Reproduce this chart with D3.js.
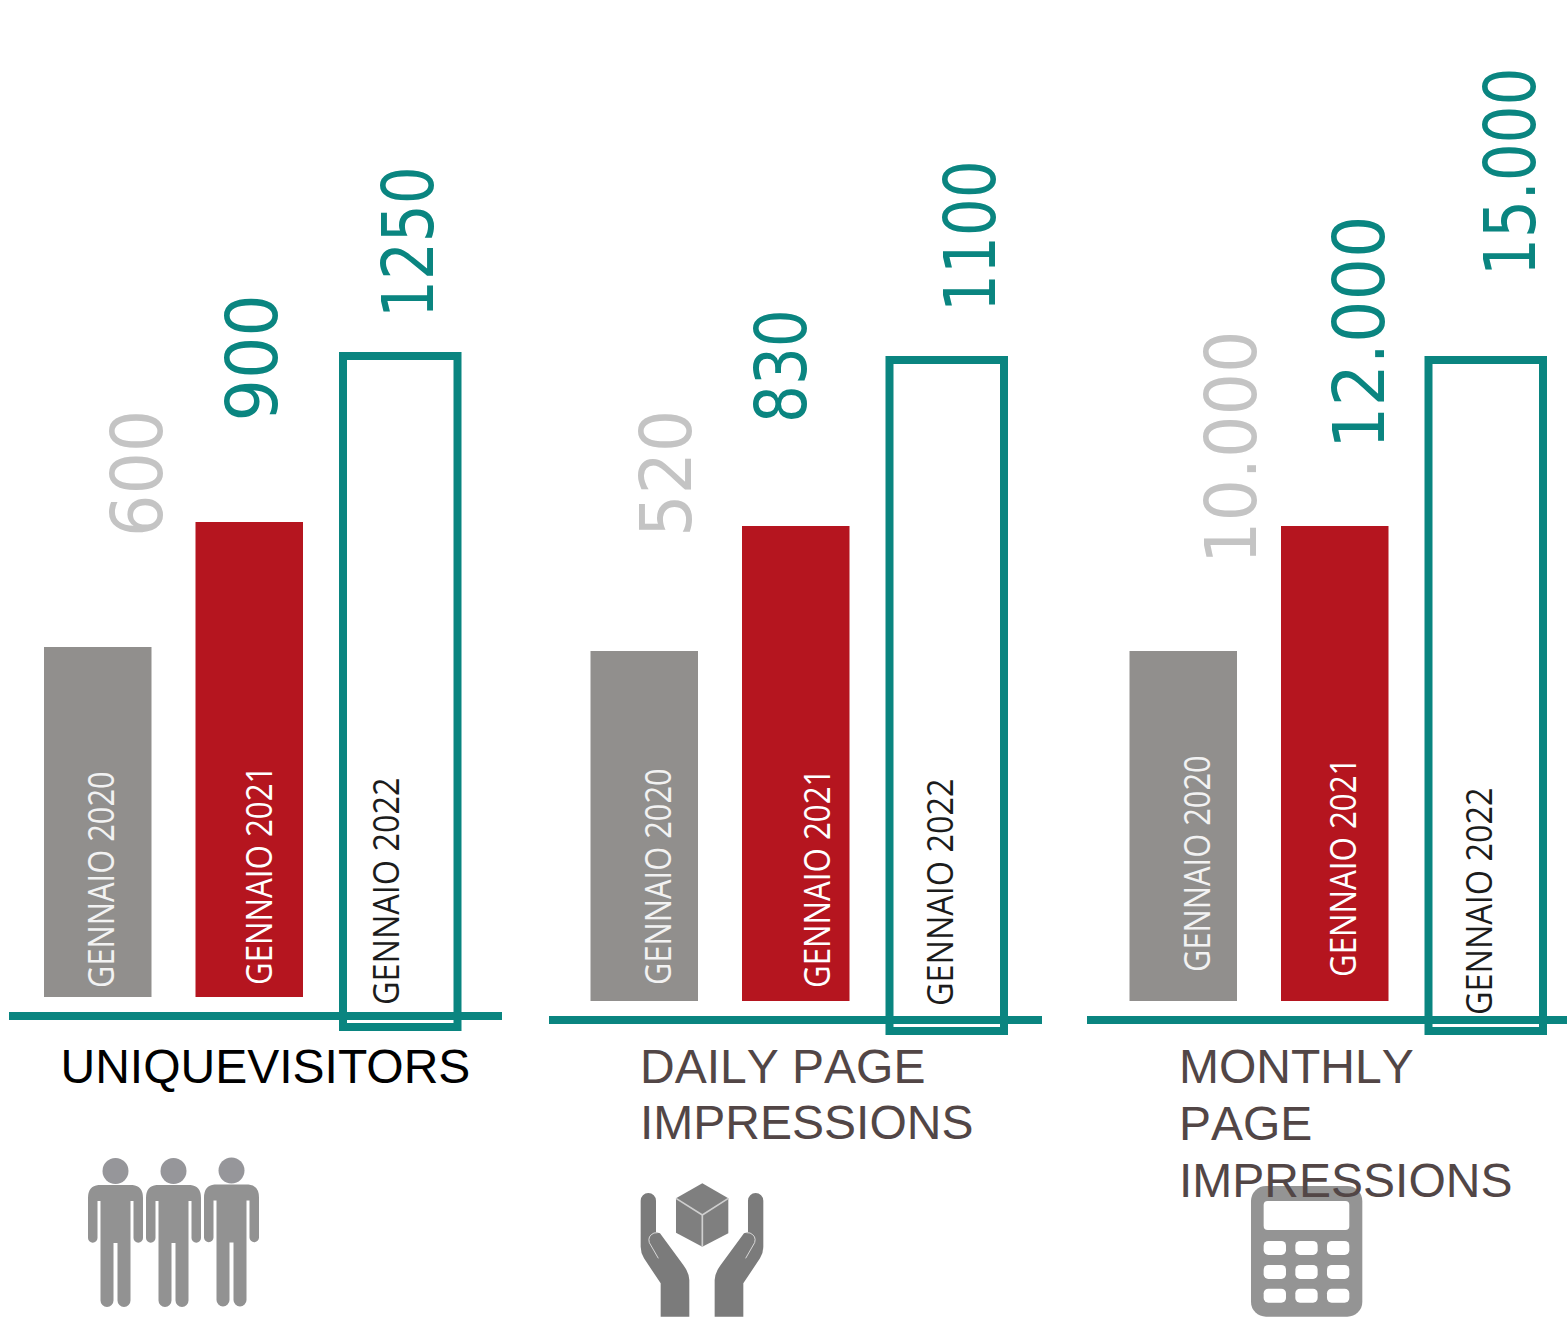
<!DOCTYPE html>
<html>
<head>
<meta charset="utf-8">
<script src="https://cdn.jsdelivr.net/npm/d3@7"></script>
<style>
  html, body { margin: 0; padding: 0; background: #fff; }
  svg { display: block; }
</style>
</head>
<body>
<div id="chart"></div>
<script>
// Chart values
const years = ["GENNAIO 2020", "GENNAIO 2021", "GENNAIO 2022"];
const visitorsValues = [600, 900, 1250];
const dailyValues = [520, 830, 1100];
const monthlyValues = [10000, 12000, 15000];
const visitorsLabels = ["600", "900", "1250"];
const dailyLabels = ["520", "830", "1100"];
const monthlyLabels = ["10.000", "12.000", "15.000"];
const visitorsTitle = ["UNIQUEVISITORS"];
const dailyTitle = ["DAILY PAGE", "IMPRESSIONS"];
const monthlyTitle = ["MONTHLY", "PAGE", "IMPRESSIONS"];

// The bars of the original are not drawn to a common scale, so each panel maps its own values to these heights
const barHeights = [350, 475, 671];

const width = 1567;
const height = 1318;
const teal = "#0a8580";
const valueColors = ["#c4c4c4", teal, teal];
const yearColors = ["#f2f2f2", "#ffffff", "#1c1c1c"];
const yearStretch = [0.857, 0.868, 0.9];

const panels = [
  { values: visitorsValues, labels: visitorsLabels, title: visitorsTitle, titleColor: "#000000", titleX: 60.5, titlePitch: 57, left: 44, base: 997,
    line: [9, 502], valueStretch: [1.03, 1.03, 0.92],
    valueAt: [[162, 537], [276.5, 421.5], [432.5, 318]], yearAt: [[114, 988], [272, 985], [399, 1005]] },
  { values: dailyValues, labels: dailyLabels, title: dailyTitle, titleColor: "#524646", titleX: 640, titlePitch: 56, left: 590.5, base: 1001,
    line: [549, 1042], valueStretch: [1.03, 0.92, 0.92],
    valueAt: [[691, 537], [806, 423], [995, 312]], yearAt: [[670.5, 985], [829.5, 988], [953, 1006]] },
  { values: monthlyValues, labels: monthlyLabels, title: monthlyTitle, titleColor: "#524646", titleX: 1179, titlePitch: 57, left: 1129.5, base: 1001,
    line: [1087, 1567], valueStretch: [1.03, 1.03, 0.92],
    valueAt: [[1256, 564], [1384, 449], [1534.5, 276]], yearAt: [[1209.5, 972], [1355.5, 977], [1492, 1015]] }
];

const svg = d3.select("#chart").append("svg").attr("width", width).attr("height", height);

// x offset of each bar inside a panel
const xOffset = d3.scaleOrdinal().domain(years).range([0, 151.5, 299]);

drawPeople();
drawHands();
drawCalculator();
panels.forEach(drawPanel);

function drawPanel(panel) {
  const g = svg.append("g");
  const barHeight = d3.scaleLinear().domain(panel.values).range(barHeights);
  const rows = panel.values.map((value, i) => ({ value, label: panel.labels[i], year: years[i], i }));
  const lineY = panel.base + 19;

  // axis line
  g.append("line")
    .attr("x1", panel.line[0]).attr("x2", panel.line[1])
    .attr("y1", lineY).attr("y2", lineY)
    .attr("stroke", teal).attr("stroke-width", 8);

  // filled bars
  g.selectAll("rect.bar")
    .data(rows.slice(0, 2))
    .join("rect")
    .attr("class", "bar")
    .attr("x", d => panel.left + xOffset(d.year))
    .attr("y", d => panel.base - barHeight(d.value))
    .attr("width", 107.5)
    .attr("height", d => barHeight(d.value))
    .attr("fill", d => d.i === 0 ? "#918f8d" : "#b5151f");

  // outlined bar, it runs through the axis line
  g.selectAll("rect.outline")
    .data(rows.slice(2))
    .join("rect")
    .attr("class", "outline")
    .attr("x", d => panel.left + xOffset(d.year))
    .attr("y", d => panel.base + 30 - barHeight(d.value))
    .attr("width", 114.5)
    .attr("height", d => barHeight(d.value))
    .attr("fill", "none")
    .attr("stroke", teal)
    .attr("stroke-width", 8);

  // value labels
  g.selectAll("text.value")
    .data(rows)
    .join("text")
    .attr("class", "value")
    .attr("transform", d => `translate(${panel.valueAt[d.i][0]},${panel.valueAt[d.i][1]}) rotate(-90) scale(${panel.valueStretch[d.i]},1)`)
    .attr("font-family", "'DejaVu Sans Condensed', 'DejaVu Sans'")
    .attr("font-stretch", "condensed")
    .attr("font-size", 72)
    .attr("fill", d => valueColors[d.i])
    .text(d => d.label);

  // year labels inside the bars
  g.selectAll("text.year")
    .data(rows)
    .join("text")
    .attr("class", "year")
    .attr("transform", d => `translate(${panel.yearAt[d.i][0]},${panel.yearAt[d.i][1]}) rotate(-90) scale(${yearStretch[d.i]},1)`)
    .attr("font-family", "'Open Sans'")
    .attr("font-size", 36)
    .attr("fill", d => yearColors[d.i])
    .text(d => d.year);

  // panel title
  g.selectAll("text.title")
    .data(panel.title)
    .join("text")
    .attr("class", "title")
    .attr("x", panel.titleX)
    .attr("y", (d, i) => 1082.5 + i * panel.titlePitch)
    .attr("font-family", "'Liberation Sans'")
    .attr("font-size", 48)
    .style("font-kerning", panel.title.length > 1 ? "none" : "auto")
    .attr("fill", panel.titleColor)
    .text(d => d);
}

function drawPeople() {
  const body = "M-17,0 L17,0 Q27.5,1 27.5,13 L27.5,53 A4.75,4.75 0 0 1 18,53 L18,16 L15,16 L15,115.5 " +
    "A6.5,6.5 0 0 1 2,115.5 L2,58 L-2,58 L-2,115.5 A6.5,6.5 0 0 1 -15,115.5 L-15,16 L-18,16 L-18,53 " +
    "A4.75,4.75 0 0 1 -27.5,53 L-27.5,13 Q-27.5,1 -17,0 Z";
  const g = svg.append("g").selectAll("g")
    .data([[115.5, 1185], [173.5, 1185], [231.5, 1184.5]])
    .join("g")
    .attr("transform", d => `translate(${d[0]},${d[1]})`);
  g.append("circle").attr("cy", -14).attr("r", 13).attr("fill", "#96969a");
  g.append("path").attr("d", body).attr("fill", "#929292");
}

function drawHands() {
  // drawn in the zoomed crop's units, then scaled down
  const g = svg.append("g").attr("transform", "translate(620,1170) scale(0.3333)");
  const hand = "M62,92 A23,23 0 0 1 108,92 L108,187 L120,190 L190,285 Q208,310 208,330 L208,440 L122,440 " +
    "L122,340 L72,265 Q62,248 62,230 Z";
  const thumb = "M115,265 L88,218 Q82,198 102,189 L113,188";
  [1, -1].forEach(side => {
    const h = g.append("g").attr("transform", side === 1 ? null : "translate(492,0) scale(-1,1)");
    h.append("path").attr("d", hand).attr("fill", "#7b7b7b");
    h.append("path").attr("d", thumb).attr("fill", "none").attr("stroke", "#d8d8d8").attr("stroke-width", 3);
  });
  g.append("path")
    .attr("d", "M247,40 L325,85 L325,190 L247,230 L168,188 L168,85 Z")
    .attr("fill", "#7f7f7f");
  g.append("path")
    .attr("d", "M168,85 L247,135 L325,85 M247,135 L247,230")
    .attr("fill", "none").attr("stroke", "#cfcfcf").attr("stroke-width", 5);
}

function drawCalculator() {
  const g = svg.append("g").attr("transform", "translate(1170,1130) scale(0.3333)");
  g.append("rect").attr("x", 243).attr("y", 168).attr("width", 334).attr("height", 392).attr("rx", 45).attr("fill", "#949494");
  g.append("rect").attr("x", 281).attr("y", 213).attr("width", 257).attr("height", 87).attr("rx", 12).attr("fill", "#fff");
  const keys = d3.cross([281, 376, 471], [333, 405, 476]);
  g.selectAll("rect.key")
    .data(keys)
    .join("rect")
    .attr("class", "key")
    .attr("x", d => d[0]).attr("y", d => d[1])
    .attr("width", 67).attr("height", 42).attr("rx", 14)
    .attr("fill", "#fff");
}
</script>
</body>
</html>
